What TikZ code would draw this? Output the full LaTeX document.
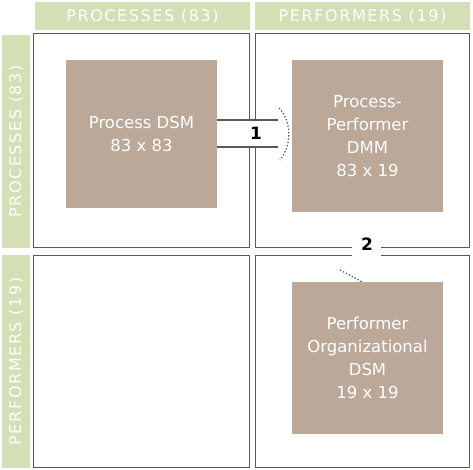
\documentclass[tikz,border=0pt]{standalone}
\usepackage{fontspec}
\setmainfont{DejaVu Sans}
\newfontfamily\hdrfont[LetterSpace=10]{DejaVu Sans}
\definecolor{hdrgreen}{HTML}{D3DFB4}
\definecolor{boxbrown}{HTML}{BCA898}
\definecolor{edgegray}{HTML}{5E5850}
\tikzset{
  quad/.style={draw=edgegray, line width=1.5pt, fill=white, minimum width=#1, inner sep=0pt},
  hdr/.style={fill=hdrgreen, text=white, font=\hdrfont\fontsize{16}{16}\selectfont, inner sep=0pt},
  dsmbox/.style={fill=boxbrown, text=white, align=center, inner sep=0pt,
    font=\fontsize{16.5}{23}\selectfont},
  chan/.style={draw=edgegray, line width=1.5pt},
  numlbl/.style={font=\bfseries\fontsize{17}{17}\selectfont, text=black, inner sep=1pt},
  dotcon/.style={draw=edgegray, dotted, line width=1.3pt}
}
\begin{document}
\begin{tikzpicture}[x=1pt,y=-1pt]
\useasboundingbox (0,0) rectangle (473,470);
% headers
\node[hdr, minimum width=215pt, minimum height=28pt] (h1) at (142.5,16) {PROCESSES (83)};
\node[hdr, minimum width=215pt, minimum height=28pt] (h2) at (362.5,16) {PERFORMERS (19)};
\node[hdr, minimum width=213pt, minimum height=28pt, rotate=90] (v1) at (16,141.5) {PROCESSES (83)};
\node[hdr, minimum width=213pt, minimum height=28pt, rotate=90] (v2) at (16,361.5) {PERFORMERS (19)};
% quadrants
\node[quad=216pt, minimum height=214pt] (q1) at (141.5,140.5) {};
\node[quad=214pt, minimum height=214pt] (q2) at (362.5,140.5) {};
\node[quad=216pt, minimum height=212pt] (q3) at (141.5,361.5) {};
\node[quad=214pt, minimum height=212pt] (q4) at (362.5,361.5) {};
% DSM boxes
\node[dsmbox, minimum width=151pt, minimum height=148pt] (b1) at (141.5,134) {Process DSM\\83 x 83};
\node[dsmbox, minimum width=151pt, minimum height=152pt] (b2) at (367.5,136) {Process-\\Performer\\DMM\\83 x 19};
\node[dsmbox, minimum width=151pt, minimum height=152pt] (b3) at (367.5,358) {Performer\\Organizational\\DSM\\19 x 19};
% channel 1
\coordinate (c1a) at (278,120);
\coordinate (c1b) at (278,147);
\fill[white] (b1.east |- c1a) rectangle (c1b);
\draw[chan] (b1.east |- c1a) -- (c1a);
\draw[chan] (b1.east |- c1b) -- (c1b);
\node[numlbl] (n1) at (256,133.5) {1};
\draw[dotcon] (279,108) .. controls (292,122) and (292,145) .. (280,160);
% channel 2
\fill[white] (352,246) rectangle (381,257);
\node[numlbl] (n2) at (367,244) {2};
\coordinate (d2a) at (340,270);
\draw[dotcon] (d2a) -- (b3.north -| 362,0);
\end{tikzpicture}
\end{document}
